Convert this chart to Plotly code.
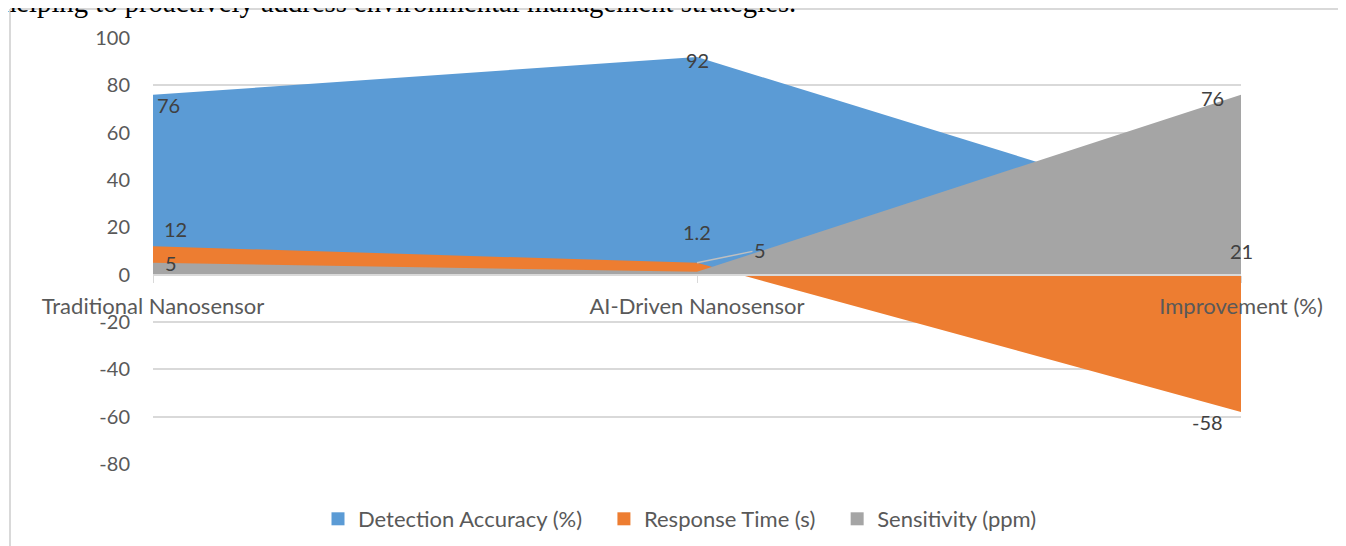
import plotly.graph_objects as go

categories = ["Traditional Nanosensor", "AI-Driven Nanosensor", "Improvement (%)"]
detection_accuracy = [76, 92, 21]
response_time = [12, 5, -58]
sensitivity = [5, 1.2, 76]

series_names = ["Detection Accuracy (%)", "Response Time (s)", "Sensitivity (ppm)"]
series_colors = ["#5B9BD5", "#ED7D31", "#A5A5A5"]

y_ticks = list(range(-80, 101, 20))
y_tick_text = [str(v) for v in y_ticks]

# the page body adds an 8px offset, so the figure is drawn 8px smaller
OFF = 8
W, H = 1346 - OFF, 546 - OFF
L, R, T, B = 153 - OFF, 105, 38 - OFF, 82
PW, PH = W - L - R, H - T - B


# helpers: reference pixel -> paper coordinates
def px_x(px):
    return (px - OFF - L) / PW


def px_y(py):
    return (H - B - (py - OFF)) / PH


FONT = "Lato"
TEXT = "#595959"
LABEL = "#404040"
GRID = "#D9D9D9"

fig = go.Figure()
for name, vals, col in zip(series_names,
                           [detection_accuracy, response_time, sensitivity],
                           series_colors):
    fig.add_trace(go.Scatter(
        x=categories, y=vals, name=name, mode="none", showlegend=False,
        fill="tozeroy", fillcolor=col, hoverinfo="skip"))

# legend entries drawn as small squares, like the original
pad = "\u00a0" * 3
for k, (name, col) in enumerate(zip(series_names, series_colors)):
    fig.add_trace(go.Scatter(
        x=[None], y=[None], name=name + (pad if k < 2 else ""),
        mode="markers", marker=dict(symbol="square", size=13, color=col)))

# data labels: (series values, index, xshift, yshift)
label_pos = [
    (detection_accuracy, 0, 15, -10),
    (detection_accuracy, 1, 0, -3),
    (detection_accuracy, 2, 0, -26),
    (response_time, 0, 22, 17),
    (response_time, 2, -34, -10),
    (sensitivity, 0, 18, 0),
    (sensitivity, 1, 0, 40),
    (sensitivity, 2, -29, -3),
]
annotations = []
for vals, i, dx, dy in label_pos:
    annotations.append(dict(
        x=categories[i], y=vals[i], text=str(vals[i]), showarrow=False,
        xshift=dx, yshift=dy, font=dict(family=FONT, size=20, color=LABEL)))

# response time at AI-Driven has a leader line
annotations.append(dict(
    x=categories[1], y=response_time[1], text=str(response_time[1]),
    showarrow=True, arrowhead=0, arrowwidth=1.5, arrowcolor="#BFBFBF",
    ax=63, ay=-13, font=dict(family=FONT, size=20, color=LABEL)))

# surrounding document text, cut off at the top
annotations.append(dict(
    xref="paper", yref="paper", x=px_x(0), y=px_y(2),
    xanchor="left", yanchor="middle", showarrow=False,
    text="helping to proactively address environmental management strategies.",
    font=dict(family="Liberation Serif", size=28.7, color="#000000")))

shapes = [
    dict(type="line", xref="paper", yref="paper",
         x0=px_x(10), x1=px_x(10), y0=px_y(9), y1=px_y(600),
         line=dict(color=GRID, width=2)),
    dict(type="line", xref="paper", yref="paper",
         x0=px_x(10), x1=px_x(1400), y0=px_y(9), y1=px_y(9),
         line=dict(color=GRID, width=2)),
]

fig.update_layout(
    width=W, height=H,
    margin=dict(l=L, r=R, t=T, b=B, autoexpand=False),
    paper_bgcolor="white", plot_bgcolor="white",
    font=dict(family=FONT, size=20, color=TEXT),
    showlegend=True,
    legend=dict(orientation="h", x=px_x(318), y=px_y(519),
                xanchor="left", yanchor="middle",
                font=dict(family=FONT, size=22, color=TEXT)),
    annotations=annotations,
    shapes=shapes,
)
fig.update_xaxes(
    type="category", range=[0, 2], anchor="free",
    position=80 / 180, showline=True, linecolor=GRID, linewidth=2,
    showgrid=False, ticks="outside", ticklen=7, tickcolor=GRID,
    ticklabelstandoff=5, tickfont=dict(family=FONT, size=22, color=TEXT))
fig.update_yaxes(
    range=[-80, 100], tickvals=y_ticks, ticktext=y_tick_text,
    showgrid=True, gridcolor=GRID,
    gridwidth=1.5, zeroline=False, showline=False, ticks="outside",
    ticklen=18, tickcolor="rgba(0,0,0,0)",
    tickfont=dict(family=FONT, size=20, color=TEXT))

fig.write_html("out.html")
